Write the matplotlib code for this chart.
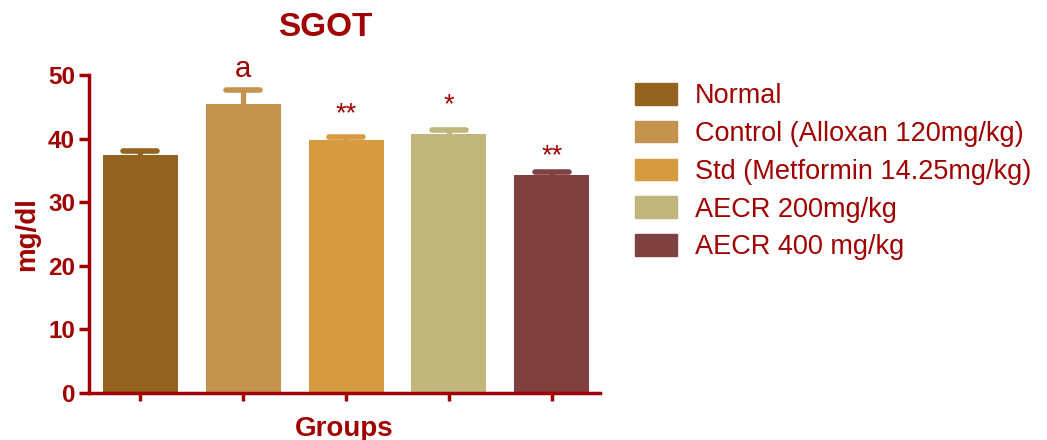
import numpy as np
import matplotlib.pyplot as plt
from matplotlib.patches import Patch

plt.rcParams['font.family'] = ['Liberation Sans', 'DejaVu Sans']

# Datos
grupos = ['Normal', 'Control (Alloxan 120mg/kg)', 'Std (Metformin 14.25mg/kg)',
          'AECR 200mg/kg', 'AECR 400 mg/kg']
medias = [37.4, 45.5, 39.8, 40.8, 34.2]
errores = [0.7, 2.1, 0.4, 0.6, 0.6]
marcas = ['', 'a', '**', '*', '**']
alturasMarca = [0, 49.7, 42.7, 44.1, 36.2]
colores = ['#94631F', '#C4944F', '#D69B41', '#C0B57B', '#804040']

rojo = '#A00000'

fig = plt.figure(figsize=(10.47, 4.4), dpi=100)
ax = fig.add_axes([89 / 1047, 47 / 440, 511 / 1047, 318 / 440])

x = np.arange(len(medias))
for i in range(len(medias)):
    tope = medias[i] + errores[i]
    # barra de error (solo hacia arriba) con tapa redondeada
    ax.plot([x[i], x[i]], [medias[i], tope], color=colores[i], lw=3.8,
            solid_capstyle='butt', zorder=1)
    ax.plot([x[i] - 0.165, x[i] + 0.165], [tope, tope], color=colores[i], lw=4,
            solid_capstyle='round', zorder=1)
    ax.bar(x[i], medias[i], width=0.73, color=colores[i], zorder=2)

# Marcas de significancia
for i in range(len(marcas)):
    if marcas[i] == '':
        continue
    tam = 21 if marcas[i] == 'a' else 19.5
    ax.text(x[i], alturasMarca[i], marcas[i], color=rojo, fontsize=tam,
            ha='center', va='baseline')

ax.set_xlim(-0.5, 4.47)
ax.set_ylim(0, 50)
ax.set_yticks([0, 10, 20, 30, 40, 50])
ax.set_xticks(x)
ax.set_xticklabels([])

for lado in ['top', 'right']:
    ax.spines[lado].set_visible(False)
for lado in ['left', 'bottom']:
    ax.spines[lado].set_color(rojo)
    ax.spines[lado].set_linewidth(2.5)

ax.tick_params(axis='y', colors=rojo, length=7, width=2.5, labelsize=17.5, pad=3)
ax.tick_params(axis='x', colors=rojo, length=6, width=2.5)
for lbl in ax.get_yticklabels():
    lbl.set_fontweight('bold')

ax.set_ylabel('mg/dl', color=rojo, fontsize=20, fontweight='bold', labelpad=6)
ax.set_xlabel('Groups', color=rojo, fontsize=20, fontweight='bold', labelpad=7)
fig.text(325 / 1047, 1 - 28 / 440, 'SGOT', color=rojo, fontsize=24,
         fontweight='bold', ha='center', va='center')

parches = [Patch(facecolor=c, edgecolor=c) for c in colores]
leg = ax.legend(parches, grupos, loc='upper left', bbox_to_anchor=(1.068, 0.975),
                frameon=False, fontsize=19.5, handlelength=1.55, handleheight=0.85,
                handletextpad=0.67, labelspacing=0.43, borderaxespad=0, borderpad=0)
for t in leg.get_texts():
    t.set_color(rojo)

fig.savefig('out.png', dpi=100)
